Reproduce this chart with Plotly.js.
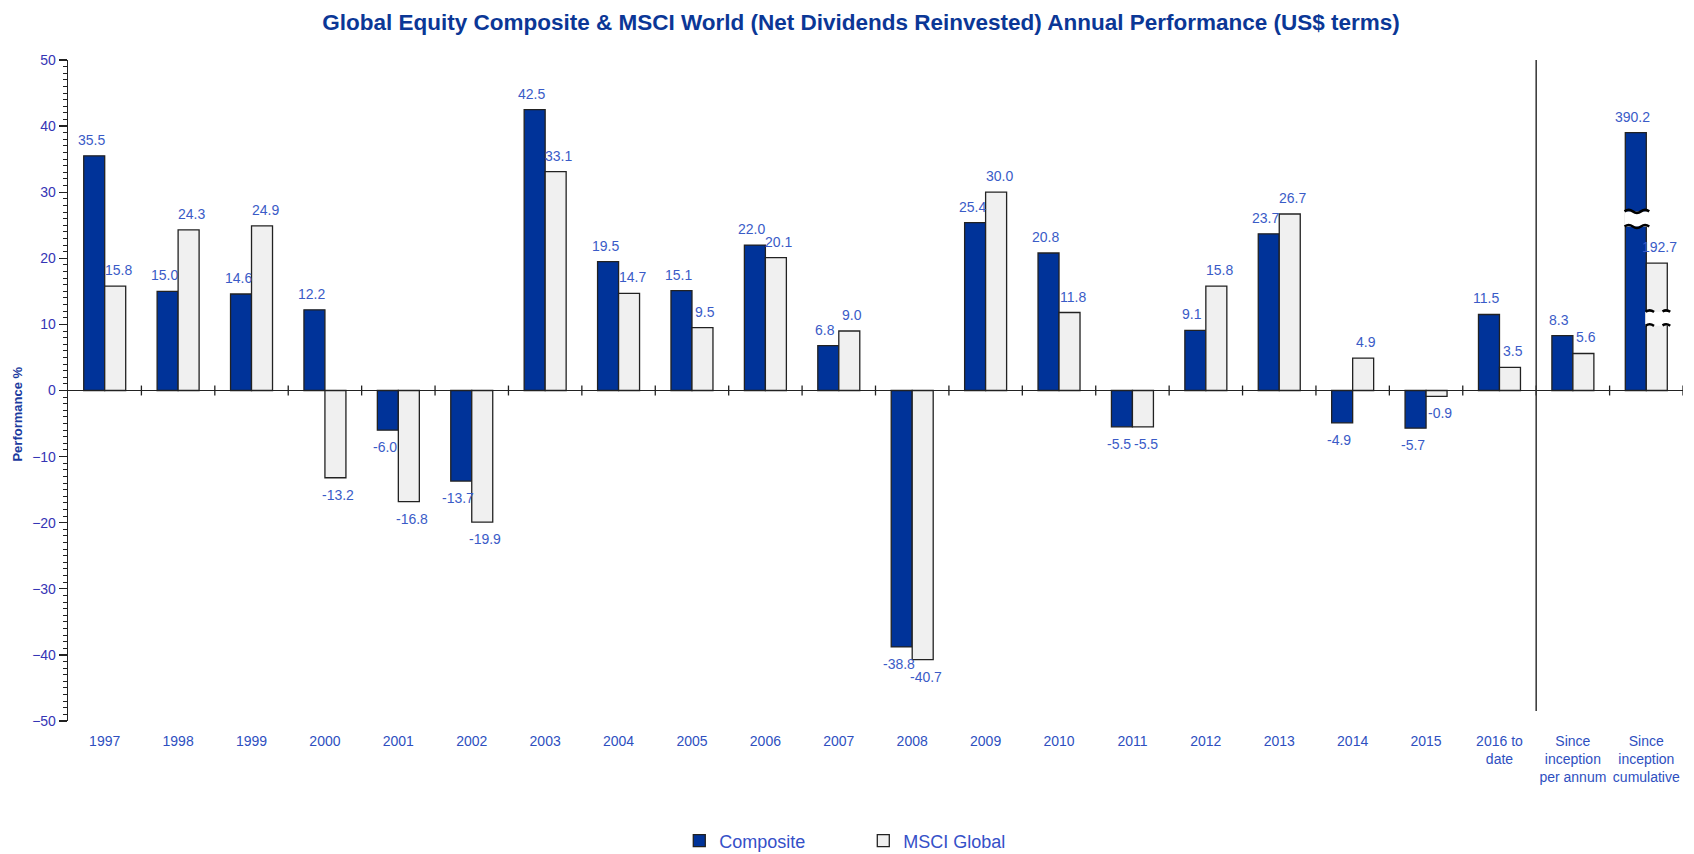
<!DOCTYPE html>
<html>
<head>
<meta charset="utf-8">
<script src="https://cdn.plot.ly/plotly-3.0.1.min.js"></script>
<style>html,body{margin:0;padding:0;background:#fff;}#chart{width:1694px;height:854px;}</style>
</head>
<body>
<div id="chart"></div>
<script>
// ---- data ----
const categories = ['1997','1998','1999','2000','2001','2002','2003','2004','2005','2006','2007','2008','2009','2010','2011','2012','2013','2014','2015','2016 to<br>date','Since<br>inception<br>per annum','Since<br>inception<br>cumulative'];
const composite = [35.5,15.0,14.6,12.2,-6.0,-13.7,42.5,19.5,15.1,22.0,6.8,-38.8,25.4,20.8,-5.5,9.1,23.7,-4.9,-5.7,11.5,8.3,390.2];
const msciGlobal = [15.8,24.3,24.9,-13.2,-16.8,-19.9,33.1,14.7,9.5,20.1,9.0,-40.7,30.0,11.8,-5.5,15.8,26.7,4.9,-0.9,3.5,5.6,192.7];
const seriesNames = ['Composite','MSCI Global'];
const brokenIndex = 21;      // cumulative category is drawn on a broken (1/10) scale
const breakScale = 10;

// ---- style ----
const FONT = 'Liberation Sans, Arial, sans-serif';
const BARGAP = 0.428;
const W = (1 - BARGAP) / 2;   // width of one bar in category units
const colComp = '#003399', colMsci = '#f0f0f0', outline = '#222222';
const labelColor = '#3a5bc7';

const drawn = arr => arr.map((v, i) => i === brokenIndex ? v / breakScale : v);
const compDrawn = drawn(composite), msciDrawn = drawn(msciGlobal);
const xIdx = categories.map((c, i) => i);

const traces = [
  {type:'bar', name:seriesNames[0], x:xIdx, y:compDrawn, marker:{color:colComp, line:{color:outline, width:1.3}}, hoverinfo:'skip'},
  {type:'bar', name:seriesNames[1], x:xIdx, y:msciDrawn, marker:{color:colMsci, line:{color:outline, width:1.3}}, hoverinfo:'skip'}
];

const annotations = [];
[[composite, compDrawn, -1], [msciGlobal, msciDrawn, 1]].forEach(([vals, ys, dir]) => {
  vals.forEach((v, i) => {
    annotations.push({
      x: i + dir * W / 2, y: ys[i], xref:'x', yref:'y',
      text: v.toFixed(1), showarrow:false,
      xanchor:'center', yanchor: v >= 0 ? 'bottom' : 'top',
      yshift: v >= 0 ? 6 : -7, xshift: dir * 3,
      font:{family:FONT, size:14, color:labelColor}
    });
  });
});
annotations.push({
  text:'Performance %', textangle:-90, showarrow:false,
  xref:'paper', yref:'y', x:-0.031, y:-3.5, xanchor:'center', yanchor:'middle',
  font:{family:FONT, size:13, color:'#1a3a9e', weight:'bold'}
});

const shapes = [];
// category boundary tick marks crossing the zero line
for (let i = 0; i < categories.length; i++) {
  shapes.push({type:'line', xref:'x', yref:'y', x0:i+0.5, x1:i+0.5, y0:-0.75, y1:0.75, line:{color:'#222', width:1.3}});
}
// separator between annual and since-inception figures
shapes.push({type:'line', xref:'x', yref:'y', x0:categories.length-2.5, x1:categories.length-2.5, y0:50.5, y1:-48.5, line:{color:'#333', width:1.5}});

// scale-break marks on the cumulative bars
function wave(xa, xb, y, amp, n) {
  const s = (xb - xa) / n;
  let p = `M${xa},${y} Q${xa + s/2},${y + amp} ${xa + s},${y}`;
  for (let k = 2; k <= n; k++) p += ` T${xa + k*s},${y}`;
  return p;
}
const breaks = [
  {x0: brokenIndex - W, x1: brokenIndex, lo: 24.8, hi: 27.1, dash:'solid'},
  {x0: brokenIndex, x1: brokenIndex + W, lo: 9.8, hi: 11.9, dash:'dash'}
];
breaks.forEach(b => {
  shapes.push({type:'rect', xref:'x', yref:'y', x0:b.x0 - 0.015, x1:b.x1 + 0.015, y0:b.lo, y1:b.hi, fillcolor:'#ffffff', line:{width:0}, layer:'above'});
  [b.lo, b.hi].forEach(yv => {
    shapes.push({type:'path', xref:'x', yref:'y', path:wave(b.x0 - 0.01, b.x1 + 0.04, yv, 0.45, 3), line:{color:'#000', width:2.5, dash:b.dash}, layer:'above'});
  });
});

const layout = {
  width:1694, height:854,
  paper_bgcolor:'#ffffff', plot_bgcolor:'#ffffff',
  margin:{l:68, r:11, t:60, b:133, autoexpand:false},
  title:{text:'Global Equity Composite & MSCI World (Net Dividends Reinvested) Annual Performance (US$ terms)',
         font:{family:FONT, size:22.5, color:'#0b3796', weight:'bold'},
         x:861/1694, xref:'container', xanchor:'center', y:1 - 22/854, yref:'container', yanchor:'middle'},
  barmode:'group', bargap:BARGAP, bargroupgap:0,
  showlegend:true,
  legend:{orientation:'h', xref:'container', yref:'container', x:0.401, y:13/854, xanchor:'left', yanchor:'middle',
          font:{family:FONT, size:18, color:'#3550c8'}, entrywidth:139, itemwidth:30, bgcolor:'rgba(0,0,0,0)'},
  xaxis:{type:'linear', range:[-0.5, categories.length - 0.5], tickmode:'array', tickvals:xIdx, ticktext:categories,
         showline:false, showgrid:false, zeroline:false, ticks:'', ticklabelstandoff:10,
         tickfont:{family:FONT, size:14, color:'#2e4fbf'}},
  yaxis:{range:[-50, 50], dtick:10, tick0:0, showgrid:false, showline:true, linecolor:'#222', linewidth:1.3,
         ticks:'outside', ticklen:8, tickcolor:'#222', tickwidth:1.3,
         minor:{dtick:1, ticks:'outside', ticklen:4, tickcolor:'#222', tickwidth:1},
         zeroline:true, zerolinecolor:'#222', zerolinewidth:1.3,
         tickfont:{family:FONT, size:14, color:'#3535b5'}},
  annotations:annotations,
  shapes:shapes
};

Plotly.newPlot('chart', traces, layout, {displayModeBar:false, staticPlot:true});
</script>
</body>
</html>
